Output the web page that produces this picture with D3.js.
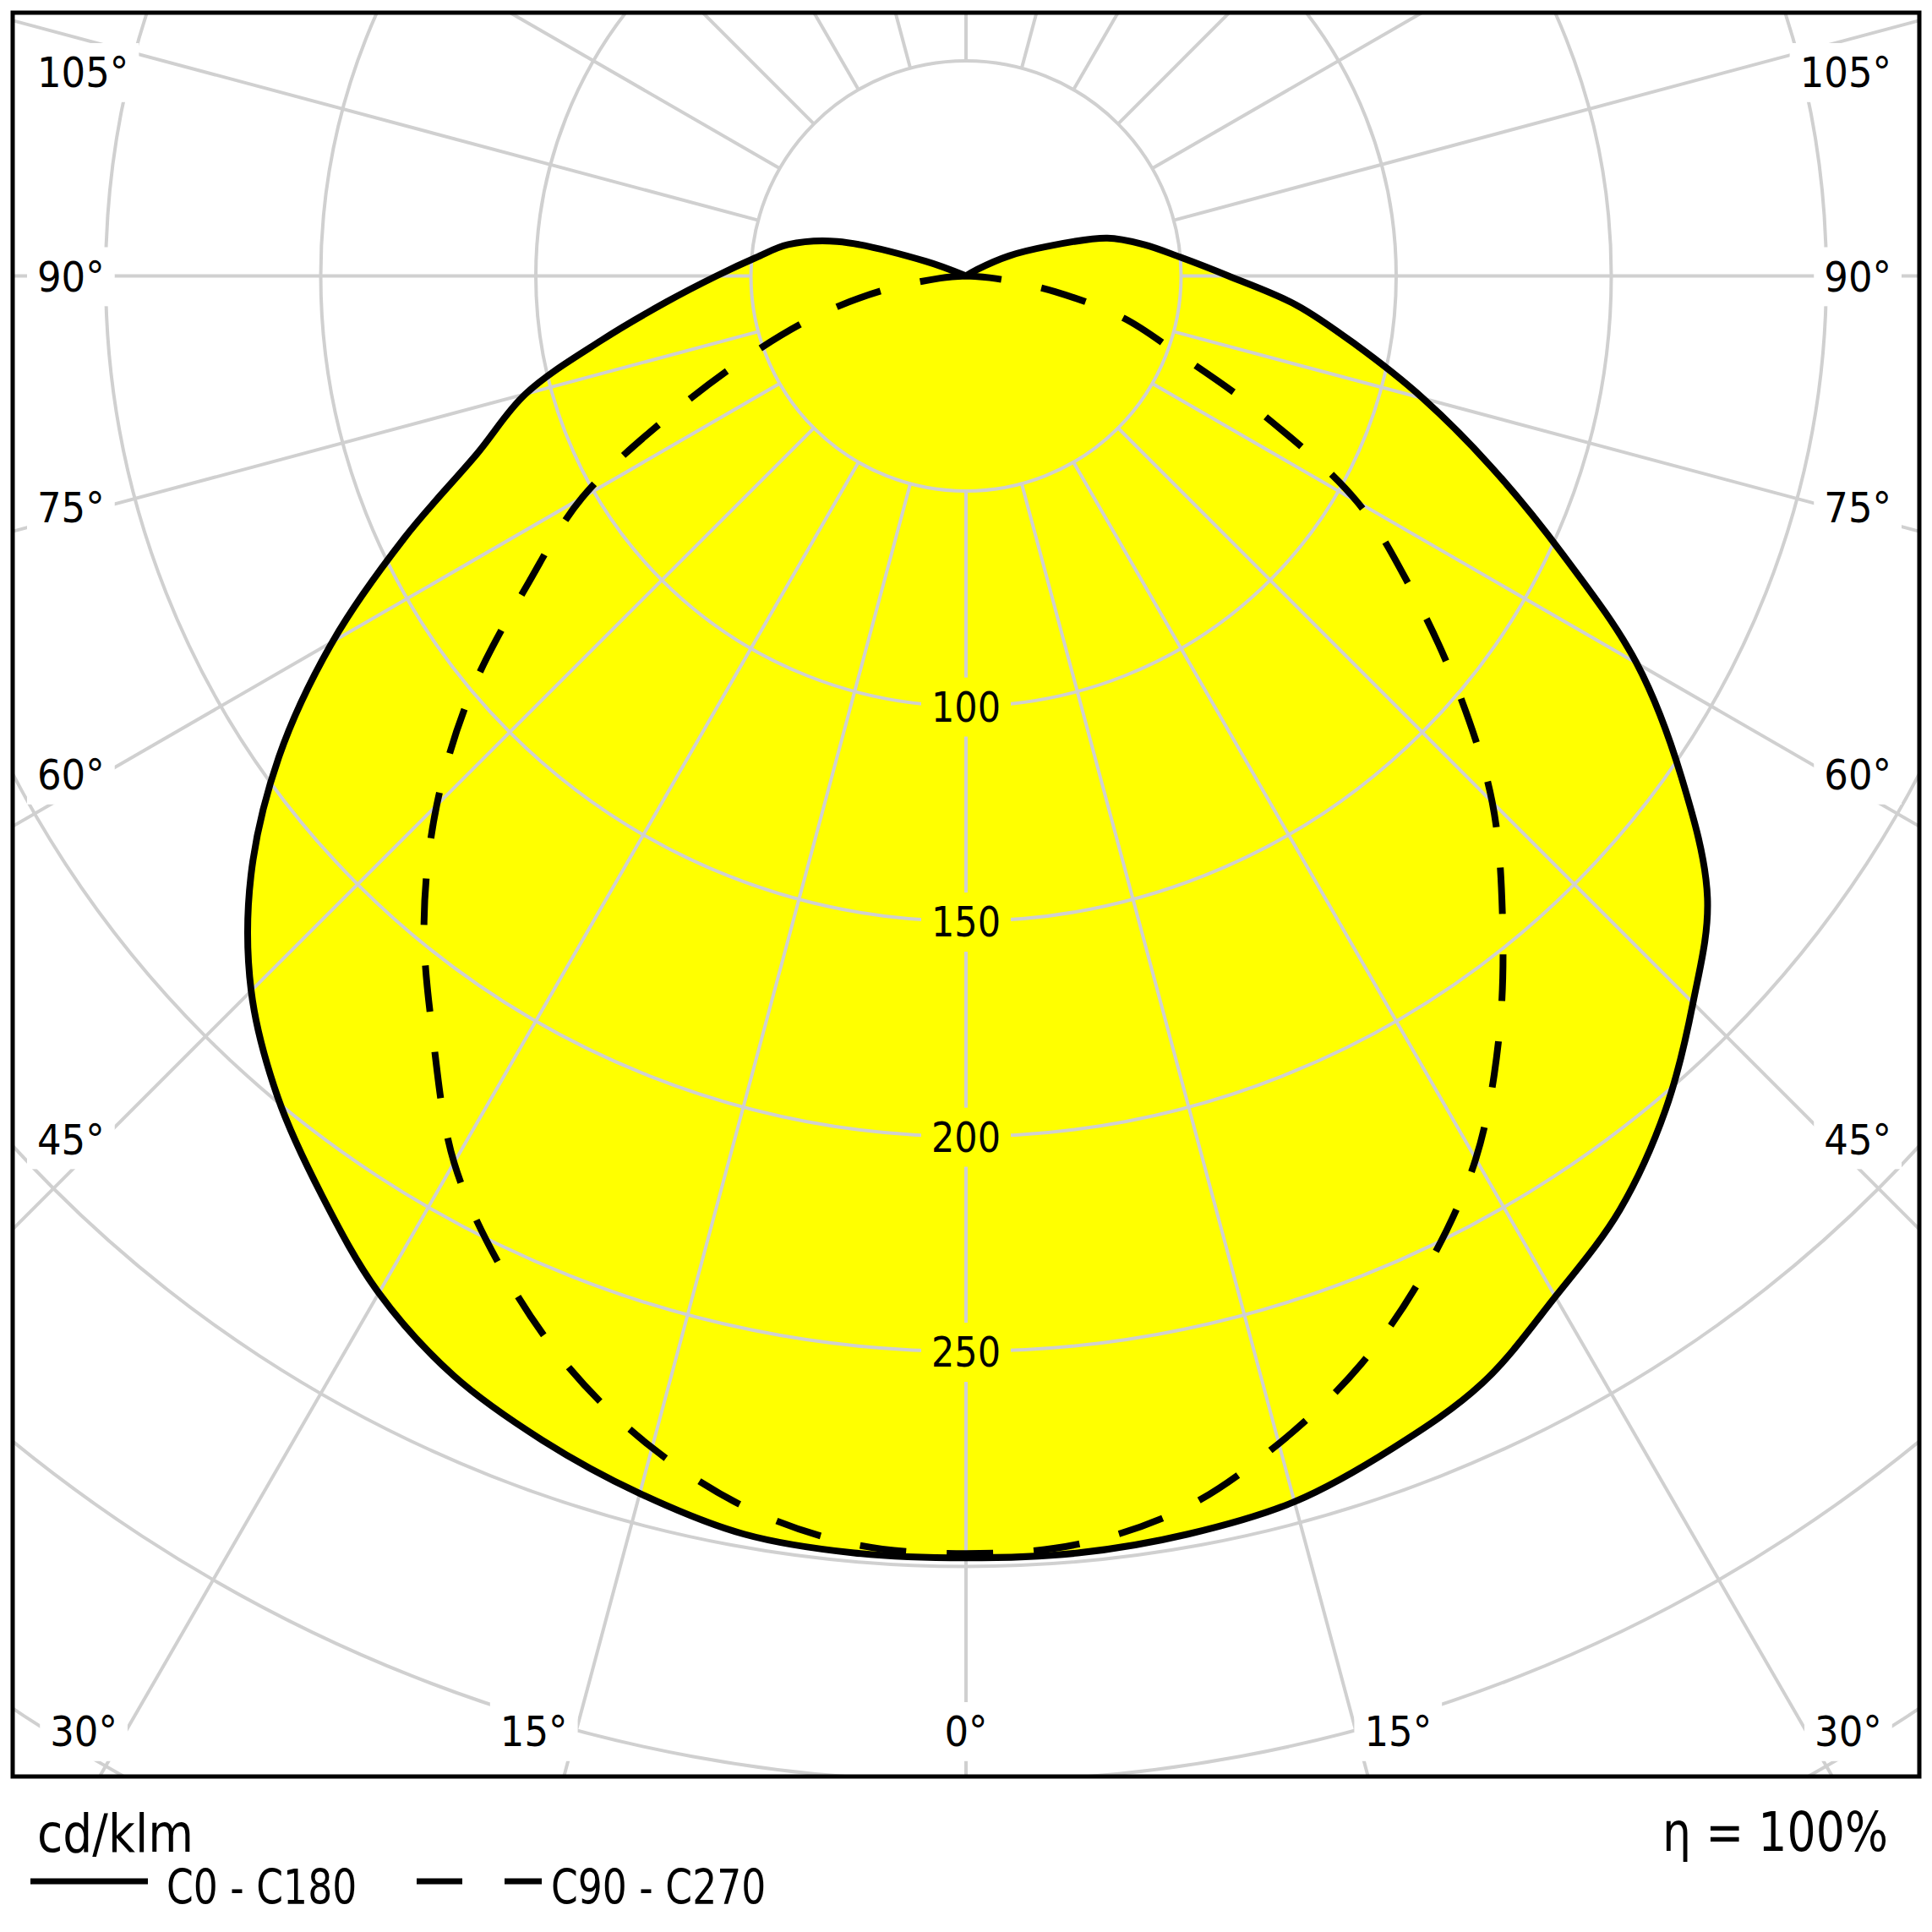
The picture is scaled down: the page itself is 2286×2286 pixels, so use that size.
<!DOCTYPE html>
<html><head><meta charset="utf-8">
<script src="https://cdn.jsdelivr.net/npm/d3@7"></script>
<style>body{margin:0;background:#fff} svg{display:block}</style>
</head><body>
<svg id="c" width="2286" height="2286"></svg>
<script>
// ---- data ----
const angles = [0,5,10,15,20,25,30,35,40,45,50,55,60,65,70,75,80,85,90,95,100,105,110,115,120,125,130,135,140,145,150,155,160,165,170,175,180];
// C0 (right) and C180 (left), cd/klm
const c0   = [298,298,297,295,290,284,274,265,253,239,225,203,180,153,130,110,92,77,61,50,42,34,20,11,3,0,0,0,0,0,0,0,0,0,0,0,0];
const c180 = [298,298,297,293,288,282,273,261,249,235,217,195,170,144,121,106,86,70,58,49,42,31,10,0,0,0,0,0,0,0,0,0,0,0,0,0,0];
// C90 (right) and C270 (left)
const c90  = [297,296,291,281,269,254,237,216,194,173,149,126,105,76,52,38,21,7,0,0,0,0,0,0,0,0,0,0,0,0,0,0,0,0,0,0,0];
const c270 = [297,296,291,282,270,255,238,216,196,174,150,124,103,75,53,36,20,6,0,0,0,0,0,0,0,0,0,0,0,0,0,0,0,0,0,0,0];
const ringValues = [50,100,150,200,250,300,350,400,450];
const ringLabels = [100,150,200,250];
const spokeAngles = [0,15,30,45,60,75,90,105,120,135,150,165,180,195,210,225,240,255,270,285,300,315,330,345];
const sideAngleLabels = [105,90,75,60,45];
const bottomAngleLabels = [30,15,0];
const unitLabel = "cd/klm";
const effLabel = "η = 100%";
const seriesNames = ["C0 - C180","C90 - C270"];

// ---- layout ----
const W = 2286;
const box = {x0:15, y0:15, x1:2271, y1:2102};
const cx = 1143, cy = 326.5;
const r = d3.scaleLinear().domain([0,50]).range([0,254.5]);
const FONT = "'DejaVu Sans', Verdana, sans-serif";
const GRID = "#d0d0d0";

const svg = d3.select("#c");
svg.append("rect").attr("width",W).attr("height",W).attr("fill","#fff");
const defs = svg.append("defs");
defs.append("clipPath").attr("id","boxclip").append("rect")
  .attr("x",box.x0).attr("y",box.y0).attr("width",box.x1-box.x0).attr("height",box.y1-box.y0);
const mask = defs.append("mask").attr("id","gridmask").attr("maskUnits","userSpaceOnUse")
  .attr("x",0).attr("y",0).attr("width",W).attr("height",W);
mask.append("rect").attr("width",W).attr("height",W).attr("fill","#fff");

const toRad = d => d*Math.PI/180;
function curvePoints(left, right){
  const pts = [];
  for (let i = angles.length-1; i >= 0; i--) pts.push({a: Math.PI + toRad(angles[i]), v: left[i]});
  for (let i = 1; i < angles.length; i++) pts.push({a: Math.PI - toRad(angles[i]), v: right[i]});
  return pts;
}
const radial = d3.lineRadial().angle(d=>d.a).radius(d=>r(d.v)).curve(d3.curveCatmullRom.alpha(0.5));
const solidPts = curvePoints(c180, c0);
const dashPts = curvePoints(c270, c90);

const clipG = svg.append("g").attr("clip-path","url(#boxclip)");
const fillG = clipG.append("g").attr("transform",`translate(${cx},${cy})`);
fillG.append("path").attr("d", radial(solidPts)+"Z").attr("fill","#ffff00");
fillG.append("path").attr("d", radial(dashPts)+"Z").attr("fill","#ffff00");

// grid
const gridG = clipG.append("g").attr("mask","url(#gridmask)");
const gridInner = gridG.append("g").attr("transform",`translate(${cx},${cy})`);
gridInner.selectAll("circle").data(ringValues).join("circle")
  .attr("r", d=>r(d)).attr("fill","none").attr("stroke",GRID).attr("stroke-width",4);
gridInner.selectAll("line").data(spokeAngles).join("line")
  .attr("x1", d=>r(50)*Math.sin(toRad(d))).attr("y1", d=>r(50)*Math.cos(toRad(d)))
  .attr("x2", d=>r(700)*Math.sin(toRad(d))).attr("y2", d=>r(700)*Math.cos(toRad(d)))
  .attr("stroke",GRID).attr("stroke-width",4);

// curves
const curveG = clipG.append("g").attr("transform",`translate(${cx},${cy})`);
curveG.append("path").attr("d", radial(dashPts)).attr("fill","none").attr("stroke","#000")
  .attr("stroke-width",8).attr("stroke-dasharray","55,48").attr("stroke-linejoin","round");
curveG.append("path").attr("d", radial(solidPts)).attr("fill","none").attr("stroke","#000")
  .attr("stroke-width",8).attr("stroke-linejoin","round");

// box
svg.append("rect").attr("x",box.x0).attr("y",box.y0).attr("width",box.x1-box.x0).attr("height",box.y1-box.y0)
  .attr("fill","none").attr("stroke","#000").attr("stroke-width",5);

// labels
const labelG = svg.append("g");
const maskLabels = [];
function addText(txt, x, yCenter, size, sx, anchor, useMask){
  const t = labelG.append("text").attr("transform",`translate(${x},${yCenter + 0.365*size}) scale(${sx},1)`)
    .attr("font-family",FONT).attr("font-size",size).attr("text-anchor",anchor).attr("fill","#000").text(txt);
  if (useMask) maskLabels.push(t);
  return t;
}
const AS = 50, ASX = 0.9;
const xRefL = 122;
sideAngleLabels.forEach(a => {
  const s = Math.sin(toRad(a)), c = Math.cos(toRad(a));
  let y = cy + (cx - xRefL) / s * c;
  y = Math.max(y, 85);
  addText(a+"°", 44, y, AS, ASX, "start", true);
  addText(a+"°", 2238, y, AS, ASX, "end", true);
});
const yBottom = 2048;
bottomAngleLabels.forEach(a => {
  const dx = (yBottom - cy) * Math.tan(toRad(a)) + (a>0 ? 50 : 0);
  addText(a+"°", cx - dx, yBottom, AS, ASX, "middle", true);
  if (a>0) addText(a+"°", cx + dx, yBottom, AS, ASX, "middle", true);
});
ringLabels.forEach(v => addText(String(v), cx, cy + r(v), 50, 0.86, "middle", true));

// gaps in the grid under labels
maskLabels.forEach(t => {
  const b = t.node().getBoundingClientRect();
  const px = 12, py = 10;
  mask.append("rect").attr("x",b.left-px).attr("y",b.top-py+4).attr("width",b.width+2*px).attr("height",b.height+2*py-8).attr("fill","#000");
});

// footer
labelG.append("text").attr("transform","translate(44,2191) scale(0.89,1)").attr("font-family",FONT)
  .attr("font-size",62).text(unitLabel);
labelG.append("text").attr("transform","translate(2234,2190) scale(0.84,1)").attr("font-family",FONT)
  .attr("font-size",64).attr("text-anchor","end").text(effLabel);
// legend
svg.append("line").attr("x1",36).attr("x2",175).attr("y1",2226).attr("y2",2226).attr("stroke","#000").attr("stroke-width",7);
labelG.append("text").attr("transform","translate(197,2253) scale(0.8,1)").attr("font-family",FONT)
  .attr("font-size",57).text(seriesNames[0]);
svg.append("line").attr("x1",493).attr("x2",641).attr("y1",2226).attr("y2",2226).attr("stroke","#000").attr("stroke-width",7)
  .attr("stroke-dasharray","54,50");
labelG.append("text").attr("transform","translate(652,2253) scale(0.8,1)").attr("font-family",FONT)
  .attr("font-size",57).text(seriesNames[1]);
</script>
</body></html>
